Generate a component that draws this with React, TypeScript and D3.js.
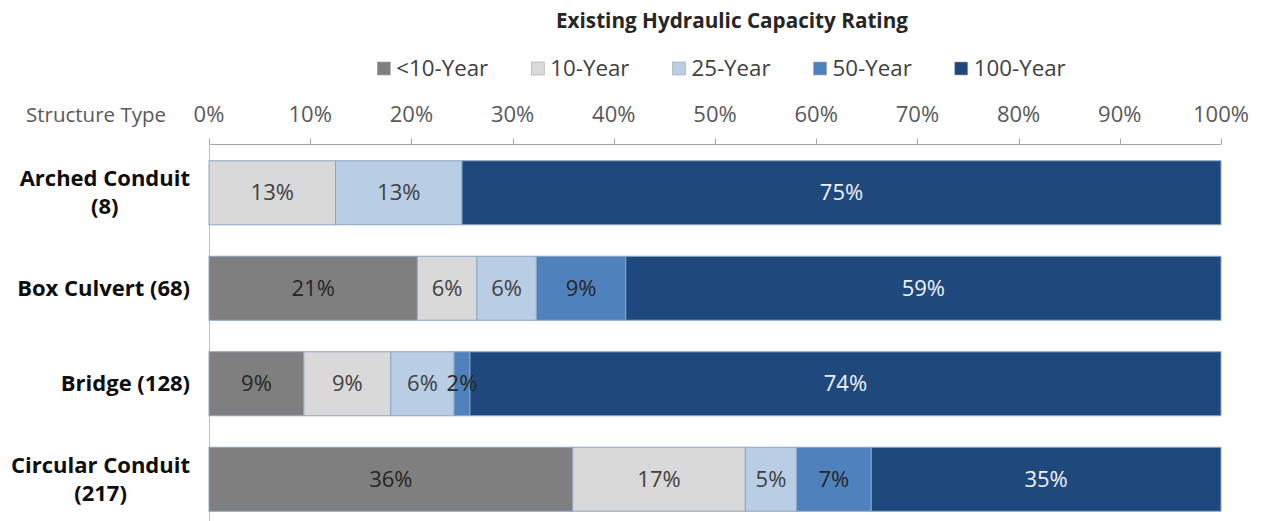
import React, { useEffect, useRef } from "react";
import * as d3 from "d3";

// Structure types (label lines) and the number of structures in each
const categoryLines: string[][] = [
  ["Arched Conduit", "(8)"],
  ["Box Culvert (68)"],
  ["Bridge (128)"],
  ["Circular Conduit", "(217)"],
];
const totals = [8, 68, 128, 217];

// Capacity rating series
const seriesNames = ["<10-Year", "10-Year", "25-Year", "50-Year", "100-Year"];
const seriesColors = ["#7f7f7f", "#d9d9d9", "#b9cde5", "#4f81bd", "#1f497d"];
const seriesLabelColors = ["#262626", "#404040", "#404040", "#262626", "#f2f2f2"];

// Structure counts per rating, one value per structure type
const lessThan10Year = [0, 14, 12, 78];
const tenYear = [1, 4, 11, 37];
const twentyFiveYear = [1, 4, 8, 11];
const fiftyYear = [0, 6, 2, 16];
const hundredYear = [6, 40, 95, 75];

const tickValues = [0, 0.1, 0.2, 0.3, 0.4, 0.5, 0.6, 0.7, 0.8, 0.9, 1.0];

const W = 1267;
const H = 521;
const FONT = "'Open Sans', 'Noto Sans', sans-serif";

export default function App() {
  const ref = useRef<SVGSVGElement>(null);

  useEffect(() => {
    const svg = d3.select(ref.current);
    svg.selectAll("*").remove();

    const seriesCounts = [lessThan10Year, tenYear, twentyFiveYear, fiftyYear, hundredYear];
    const rows = categoryLines.map((lines, i) => {
      const row: any = { key: i };
      seriesNames.forEach((s, j) => {
        row[s] = seriesCounts[j][i] / totals[i];
      });
      return row;
    });
    const stacked = d3.stack<any>().keys(seriesNames)(rows);

    const x = d3.scaleLinear().domain([0, 1]).range([209, 1221]);
    const y = d3
      .scaleBand<number>()
      .domain(rows.map((r) => r.key))
      .range([145, 527])
      .paddingInner(0.33)
      .paddingOuter(0.165);

    // Title
    svg
      .append("text")
      .attr("x", 732)
      .attr("y", 28)
      .attr("text-anchor", "middle")
      .attr("font-family", FONT)
      .attr("font-weight", 700)
      .attr("font-size", 20.7)
      .attr("fill", "#262626")
      .text("Existing Hydraulic Capacity Rating");

    // Legend, laid out left to right and centred
    const legend = svg.append("g");
    let cursor = 0;
    const gap = 43;
    seriesNames.forEach((name, i) => {
      const g = legend.append("g").attr("transform", `translate(${cursor},0)`);
      g.append("rect")
        .attr("x", 0)
        .attr("y", -14)
        .attr("width", 13)
        .attr("height", 13)
        .attr("fill", seriesColors[i])
        .attr("stroke", "#a5a5a5")
        .attr("stroke-width", 0.6);
      const t = g
        .append("text")
        .attr("x", 19)
        .attr("y", 0)
        .attr("font-family", FONT)
        .attr("font-size", 22.3)
        .attr("fill", "#404040")
        .text(name);
      const w = (t.node() as SVGTextElement).getComputedTextLength();
      cursor += 19 + w + gap;
    });
    const legendWidth = cursor - gap;
    legend.attr("transform", `translate(${721.5 - legendWidth / 2},76)`);

    // Top axis
    const axis = svg.append("g").attr("transform", "translate(0,144.5)");
    axis
      .append("line")
      .attr("x1", x(0))
      .attr("x2", x(1))
      .attr("stroke", "#a6a6a6")
      .attr("stroke-width", 1);
    axis
      .selectAll("line.tick")
      .data(tickValues)
      .join("line")
      .attr("class", "tick")
      .attr("x1", (d) => Math.round(x(d)) + 0.5)
      .attr("x2", (d) => Math.round(x(d)) + 0.5)
      .attr("y1", -6)
      .attr("y2", 0)
      .attr("stroke", "#a6a6a6");
    axis
      .selectAll("text")
      .data(tickValues)
      .join("text")
      .attr("x", (d) => x(d))
      .attr("y", -23)
      .attr("text-anchor", "middle")
      .attr("font-family", FONT)
      .attr("font-size", 22)
      .attr("fill", "#595959")
      .text((d) => d3.format(".0%")(d));

    svg
      .append("text")
      .attr("x", 166)
      .attr("y", 121.5)
      .attr("text-anchor", "end")
      .attr("font-family", FONT)
      .attr("font-size", 20.5)
      .attr("fill", "#595959")
      .text("Structure Type");

    // Left axis line
    svg
      .append("line")
      .attr("x1", x(0) + 0.5)
      .attr("x2", x(0) + 0.5)
      .attr("y1", 144)
      .attr("y2", H)
      .attr("stroke", "#bfbfbf");

    // Bars
    stacked.forEach((layer, si) => {
      const g = svg.append("g");
      g.selectAll("rect")
        .data(layer.filter((d) => d[1] - d[0] > 0))
        .join("rect")
        .attr("x", (d) => x(d[0]))
        .attr("y", (d) => y(d.data.key)!)
        .attr("width", (d) => x(d[1]) - x(d[0]))
        .attr("height", y.bandwidth())
        .attr("fill", seriesColors[si])
        .attr("stroke", "#8ea6c6")
        .attr("stroke-width", 1);
    });

    // Value labels
    stacked.forEach((layer, si) => {
      svg
        .append("g")
        .selectAll("text")
        .data(layer.filter((d) => d[1] - d[0] > 0))
        .join("text")
        .attr("x", (d) => (x(d[0]) + x(d[1])) / 2)
        .attr("y", (d) => y(d.data.key)! + y.bandwidth() / 2 + 7.5)
        .attr("text-anchor", "middle")
        .attr("font-family", FONT)
        .attr("font-size", 22)
        .attr("fill", seriesLabelColors[si])
        .text((d) => `${Math.round((d[1] - d[0]) * 100)}%`);
    });

    // Category labels: block right-aligned, lines centred within the block
    categoryLines.forEach((lines, i) => {
      const g = svg.append("g");
      const cy = y(i)! + y.bandwidth() / 2;
      const lineH = 28;
      const texts = lines.map((line, k) =>
        g
          .append("text")
          .attr("y", cy + 7.5 + (k - (lines.length - 1) / 2) * lineH)
          .attr("text-anchor", "middle")
          .attr("font-family", FONT)
          .attr("font-weight", 700)
          .attr("font-size", 22)
          .attr("fill", "#0d0d0d")
          .text(line)
      );
      const maxW = d3.max(texts, (t) => (t.node() as SVGTextElement).getComputedTextLength()) || 0;
      texts.forEach((t) => t.attr("x", 190 - maxW / 2));
    });
  }, []);

  return (
    <svg
      ref={ref}
      width={W}
      height={H}
      style={{ position: "absolute", left: 0, top: 0, background: "#ffffff" }}
    />
  );
}
